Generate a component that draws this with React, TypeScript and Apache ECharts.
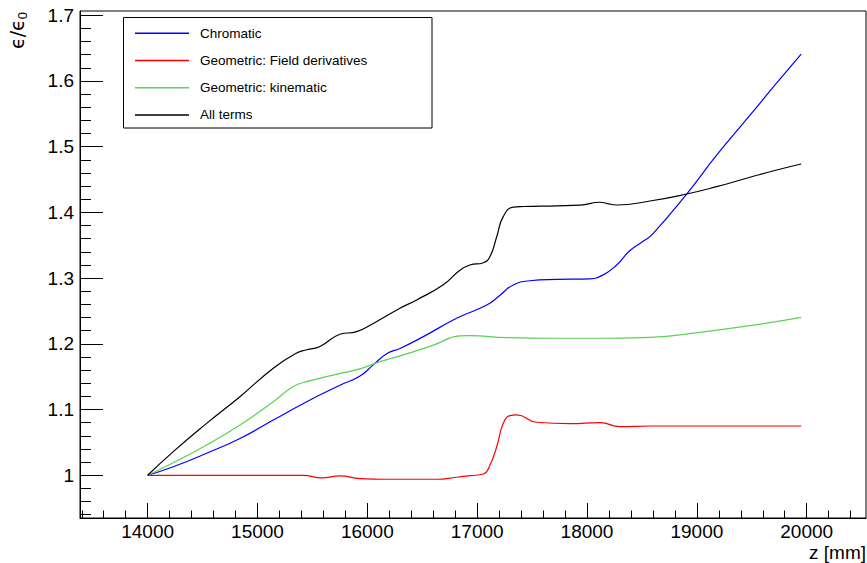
import React, { useEffect, useRef } from 'react';
import * as echarts from 'echarts';

// ---- tick values ----
const xMajorTicks = [14000, 15000, 16000, 17000, 18000, 19000, 20000];
const xMinorTicks = [
  13400, 13600, 13800, 14200, 14400, 14600, 14800, 15200, 15400, 15600, 15800,
  16200, 16400, 16600, 16800, 17200, 17400, 17600, 17800, 18200, 18400, 18600,
  18800, 19200, 19400, 19600, 19800, 20200, 20400,
];
const yMajorTicks = [1, 1.1, 1.2, 1.3, 1.4, 1.5, 1.6, 1.7];
const yMinorTicks = [
  0.94, 0.96, 0.98, 1.02, 1.04, 1.06, 1.08, 1.12, 1.14, 1.16, 1.18, 1.22, 1.24,
  1.26, 1.28, 1.32, 1.34, 1.36, 1.38, 1.42, 1.44, 1.46, 1.48, 1.52, 1.54, 1.56,
  1.58, 1.62, 1.64, 1.66, 1.68,
];

// ---- series data ----
const seriesNames = ['Chromatic', 'Geometric: Field derivatives', 'Geometric: kinematic', 'All terms'];

const zChromatic = [14000, 14233, 14537, 14840, 15144, 15448, 15751, 15933, 16054, 16176, 16297, 16510, 16813, 17087, 17208, 17329, 17481, 17724, 18027, 18148, 18270, 18391, 18512, 18603, 18907, 19180, 19484, 19727, 19950];
const vChromatic = [1.0, 1.013, 1.0335, 1.056, 1.084, 1.112, 1.137, 1.151, 1.168, 1.185, 1.193, 1.211, 1.239, 1.259, 1.274, 1.2896, 1.296, 1.298, 1.299, 1.305, 1.32, 1.342, 1.356, 1.368, 1.428, 1.487, 1.548, 1.597, 1.641];

const zField = [14000, 15326, 15418, 15585, 15751, 15933, 16176, 16631, 16813, 16934, 17056, 17117, 17178, 17238, 17299, 17360, 17542, 17846, 18118, 18300, 18573, 19950];
const vField = [1.0, 1.0, 1.0, 0.996, 0.999, 0.995, 0.994, 0.994, 0.997, 0.9994, 1.002, 1.0157, 1.0435, 1.0791, 1.0907, 1.0918, 1.0807, 1.0785, 1.0801, 1.074, 1.075, 1.075];

const zKinematic = [14000, 14233, 14537, 14840, 15144, 15326, 15448, 15751, 15933, 16115, 16297, 16600, 16843, 16934, 17268, 17724, 18118, 18573, 19028, 19484, 19950];
const vKinematic = [1.0, 1.019, 1.046, 1.0765, 1.112, 1.135, 1.1425, 1.155, 1.162, 1.173, 1.1816, 1.198, 1.212, 1.2125, 1.2094, 1.2085, 1.2085, 1.21, 1.2176, 1.2277, 1.2404];

const zAll = [14000, 14233, 14537, 14840, 15144, 15357, 15448, 15569, 15751, 15903, 16054, 16297, 16449, 16691, 16843, 16934, 17056, 17117, 17178, 17238, 17329, 17420, 17724, 17936, 18118, 18178, 18270, 18573, 18907, 19180, 19484, 19727, 19950];
const vAll = [1.0, 1.036, 1.079, 1.1196, 1.163, 1.186, 1.191, 1.196, 1.2146, 1.2185, 1.231, 1.2541, 1.2668, 1.29, 1.312, 1.32, 1.3235, 1.333, 1.363, 1.394, 1.408, 1.409, 1.41, 1.411, 1.4155, 1.4139, 1.4113, 1.4174, 1.428, 1.4392, 1.4535, 1.4646, 1.4737];

const FONT = 'Liberation Sans, Arial, Helvetica, sans-serif';

const zip = (a: number[], b: number[]) => a.map((x, i) => [x, b[i]]);

export default function App() {
  const ref = useRef<HTMLDivElement>(null);
  useEffect(() => {
    document.body.style.margin = '0';
    document.body.style.overflow = 'hidden';
    const chart = echarts.init(ref.current!, undefined, { renderer: 'svg' });
    const colors = ['#0000ff', '#ff0000', '#59d354', '#000000'];
    const datasets = [
      zip(zChromatic, vChromatic),
      zip(zField, vField),
      zip(zKinematic, vKinematic),
      zip(zAll, vAll),
    ];
    const xMin = 13384, xMax = 20540;
    const yMin = 0.935, yMax = 1.7065;
    chart.setOption({
      animation: false,
      backgroundColor: '#fff',
      grid: {
        left: 80, top: 11, width: 786, height: 507,
        show: true, borderColor: '#000', borderWidth: 1, backgroundColor: 'transparent',
      },
      xAxis: [
        {
          type: 'value', min: xMin, max: xMax, position: 'bottom',
          axisLine: { show: true, onZero: false, lineStyle: { color: '#000', width: 1 } },
          axisTick: { show: true, inside: true, length: 15, customValues: xMajorTicks, lineStyle: { color: '#000', width: 1 } },
          axisLabel: {
            customValues: xMajorTicks, fontSize: 19, color: '#000', fontFamily: FONT, margin: 4,
            formatter: (v: number) => String(v),
          },
          splitLine: { show: false },
        },
        {
          type: 'value', min: xMin, max: xMax, position: 'bottom',
          axisLine: { show: false, onZero: false },
          axisTick: { show: true, inside: true, length: 7.5, customValues: xMinorTicks, lineStyle: { color: '#000', width: 1 } },
          axisLabel: { show: false },
          splitLine: { show: false },
        },
      ],
      yAxis: [
        {
          type: 'value', min: yMin, max: yMax, position: 'left',
          axisLine: { show: true, onZero: false, lineStyle: { color: '#000', width: 1 } },
          axisTick: { show: true, inside: true, length: 23, customValues: yMajorTicks, lineStyle: { color: '#000', width: 1 } },
          axisLabel: {
            customValues: yMajorTicks, fontSize: 19, color: '#000', fontFamily: FONT, margin: 6,
            formatter: (v: number) => String(v),
          },
          splitLine: { show: false },
        },
        {
          type: 'value', min: yMin, max: yMax, position: 'left',
          axisLine: { show: false, onZero: false },
          axisTick: { show: true, inside: true, length: 11, customValues: yMinorTicks, lineStyle: { color: '#000', width: 1 } },
          axisLabel: { show: false },
          splitLine: { show: false },
        },
      ],
      legend: {
        orient: 'vertical', left: 135, top: 25.3, padding: 0,
        itemWidth: 54, itemHeight: 1.5, itemGap: 11.2, icon: 'rect',
        data: seriesNames,
        textStyle: { fontSize: 13.5, fontFamily: FONT, color: '#000', lineHeight: 16, padding: [0, 0, 0, 6] },
        z: 10,
      },
      graphic: [
        {
          type: 'rect', z: 5, silent: true,
          shape: { x: 123.5, y: 17.5, width: 308.5, height: 110.5 },
          style: { fill: '#fff', stroke: '#000', lineWidth: 1 },
        },
        {
          type: 'text', silent: true, x: 17, y: 12, rotation: Math.PI / 2,
          style: {
            text: '{a|ϵ/ϵ}{b|0}', fill: '#000',
            textAlign: 'right', textVerticalAlign: 'middle',
            rich: {
              a: { fontSize: 19, fontFamily: 'DejaVu Sans, sans-serif', lineHeight: 24, verticalAlign: 'middle', fill: '#000' },
              b: { fontSize: 13, fontFamily: FONT, lineHeight: 24, verticalAlign: 'bottom', fill: '#000' },
            },
          },
        },
        {
          type: 'text', silent: true, x: 866, y: 552,
          style: {
            text: 'z [mm]', font: `19px ${FONT}`, fill: '#000',
            textAlign: 'right', textVerticalAlign: 'middle',
          },
        },
      ],
      series: seriesNames.map((name, i) => ({
        type: 'line', name, data: datasets[i], xAxisIndex: 0, yAxisIndex: 0,
        symbol: 'none', showSymbol: false, smooth: 0.5, silent: true,
        lineStyle: { color: colors[i], width: 1.2 },
        itemStyle: { color: colors[i] },
        z: 2 + i,
      })),
    });
    return () => chart.dispose();
  }, []);
  return <div ref={ref} style={{ width: 867, height: 563 }} />;
}
